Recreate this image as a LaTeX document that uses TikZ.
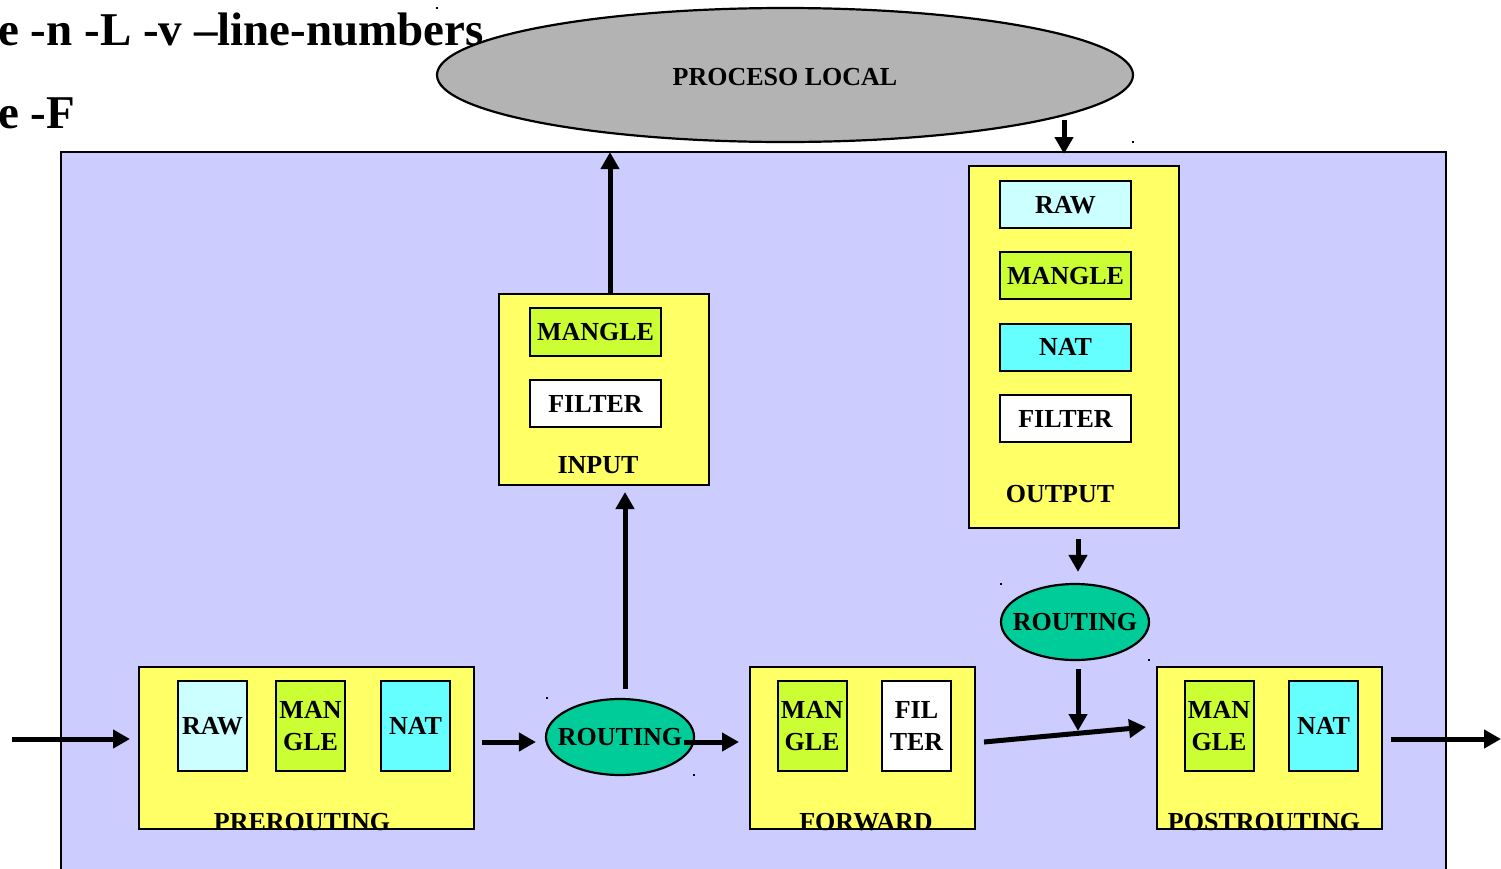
\documentclass[tikz,border=0pt]{standalone}
\usepackage{fontspec}
\setmainfont{Liberation Serif}
\usetikzlibrary{arrows.meta,shapes.geometric,calc}
\definecolor{panel}{HTML}{CCCCFF}
\definecolor{chainfill}{HTML}{FFFF66}
\definecolor{rawfill}{HTML}{CCFFFF}
\definecolor{manglefill}{HTML}{CCFF33}
\definecolor{natfill}{HTML}{66FFFF}
\definecolor{routefill}{HTML}{00CC99}
\definecolor{procfill}{HTML}{B3B3B3}
\tikzset{
  lbl/.style={font=\fontsize{26}{32}\selectfont\bfseries, align=center, inner sep=0pt},
  lowlbl/.style={lbl, text depth=-6pt},
  chainbox/.style={draw, line width=2pt, fill=chainfill, inner sep=0pt},
  tablebox/.style={draw, line width=2pt, inner sep=0pt, lowlbl},
  routenode/.style={ellipse, draw, line width=2.2pt, fill=routefill, inner sep=0pt,
    minimum width=148pt, minimum height=76pt},
  arr/.style={line width=5pt, -{Triangle[length=17pt,width=18pt]}},
  speck/.style={fill=black, minimum size=2.5pt, inner sep=0pt}
}
\begin{document}
\begin{tikzpicture}[x=1pt,y=-1pt]
\useasboundingbox (0,0) rectangle (1501,868);

% command lines
\node[anchor=base west, inner sep=0pt, font=\fontsize{47}{47}\selectfont\bfseries] (cmd1) at (-2,45) {e -n -L -v –line-numbers};
\node[anchor=base west, inner sep=0pt, font=\fontsize{47}{47}\selectfont\bfseries] (cmd2) at (-2,128) {e -F};

% local process
\node[ellipse, draw, line width=2.2pt, fill=procfill, minimum width=696pt, minimum height=134pt,
  inner sep=0pt] (proc) at (785,75) {};
\node[lbl] (proc-lbl) at (785,77) {PROCESO LOCAL};

% kernel panel
\draw[line width=2pt, fill=panel] (61,152) rectangle (1446,890);

% INPUT chain
\node[chainbox, minimum width=210pt, minimum height=191pt] (input) at (604,389.5) {};
\node[tablebox, fill=manglefill, minimum width=131pt, minimum height=48pt] (in-mangle) at (595.5,332) {MANGLE};
\node[tablebox, fill=white, minimum width=131pt, minimum height=47pt] (in-filter) at (595.5,403.5) {FILTER};
\node[lbl] (input-lbl) at (598,465) {INPUT};

% OUTPUT chain
\node[chainbox, minimum width=210pt, minimum height=362pt] (output) at (1074,347) {};
\node[tablebox, fill=rawfill, minimum width=131pt, minimum height=47pt] (out-raw) at (1065.5,204.5) {RAW};
\node[tablebox, fill=manglefill, minimum width=131pt, minimum height=47pt] (out-mangle) at (1065.5,275.5) {MANGLE};
\node[tablebox, fill=natfill, minimum width=131pt, minimum height=47pt] (out-nat) at (1065.5,347) {NAT};
\node[tablebox, fill=white, minimum width=131pt, minimum height=47pt] (out-filter) at (1065.5,418.5) {FILTER};
\node[lbl] (output-lbl) at (1060,494) {OUTPUT};

% PREROUTING chain
\node[chainbox, minimum width=335pt, minimum height=162pt] (pre) at (306.5,748) {};
\node[tablebox, fill=rawfill, minimum width=69pt, minimum height=90pt] (pre-raw) at (212.5,726) {RAW};
\node[tablebox, fill=manglefill, minimum width=69pt, minimum height=90pt] (pre-mangle) at (310.5,726) {MAN\\GLE};
\node[tablebox, fill=natfill, minimum width=69pt, minimum height=90pt] (pre-nat) at (415.5,726) {NAT};
\node[lbl] (pre-lbl) at (302,822) {PREROUTING};

% FORWARD chain
\node[chainbox, minimum width=225pt, minimum height=162pt] (fwd) at (862.5,748) {};
\node[tablebox, fill=manglefill, minimum width=69pt, minimum height=90pt] (fwd-mangle) at (812,726) {MAN\\GLE};
\node[tablebox, fill=white, minimum width=69pt, minimum height=90pt] (fwd-filter) at (916.5,726) {FIL\\TER};
\node[lbl] (fwd-lbl) at (866,822) {FORWARD};

% POSTROUTING chain
\node[chainbox, minimum width=225pt, minimum height=162pt] (post) at (1269.5,748) {};
\node[tablebox, fill=manglefill, minimum width=69pt, minimum height=90pt] (post-mangle) at (1219,726) {MAN\\GLE};
\node[tablebox, fill=natfill, minimum width=69pt, minimum height=90pt] (post-nat) at (1323.5,726) {NAT};
\node[lbl] (post-lbl) at (1264,822) {POSTROUTING};

% routing decisions
\node[routenode, label={[lowlbl]center:ROUTING}] (route1) at (620,737) {};
\node[routenode, label={[lowlbl]center:ROUTING}] (route2) at (1075,622) {};

% packet flow
\coordinate (src) at (12,739);
\coordinate (sink) at (1501,739);
\coordinate (merge) at (1078,731);
\draw[arr] (src) -- ($(pre.west)+(-8,-9)$);
\draw[arr] ($(pre.east)+(7,-6)$) -- ($(route1.west)+(-9,5)$);
\draw[arr] ($(route1.center)+(64,5)$) -- ($(fwd.west)+(-10,-6)$);
\draw[arr] ($(route1.north)+(5,-9)$) -- ($(input.south)+(21,6)$);
\draw[arr] ($(input.north)+(6,0)$) -- ($(proc.south)+(-175,9)$);
\draw[arr] ($(proc.center)+(279,45)$) -- ($(output.north)+(-10,-11)$);
\draw[arr] ($(output.south)+(4,10)$) -- ($(route2.north)+(3,-11)$);
\draw[arr] ($(route2.south)+(3,8)$) -- (merge);
\draw[arr] ($(fwd.east)+(8,-6)$) -- ($(post.west)+(-10,-21)$);
\draw[arr] ($(post.east)+(8,-9)$) -- (sink);

% stray specks at the ellipse frames
\node[speck] (s1) at (437,8) {};
\node[speck] (s2) at (1133,142) {};
\node[speck] (s3) at (547,698) {};
\node[speck] (s4) at (694,775) {};
\node[speck] (s5) at (1001,584) {};
\node[speck] (s6) at (1149,660) {};
\end{tikzpicture}
\end{document}
